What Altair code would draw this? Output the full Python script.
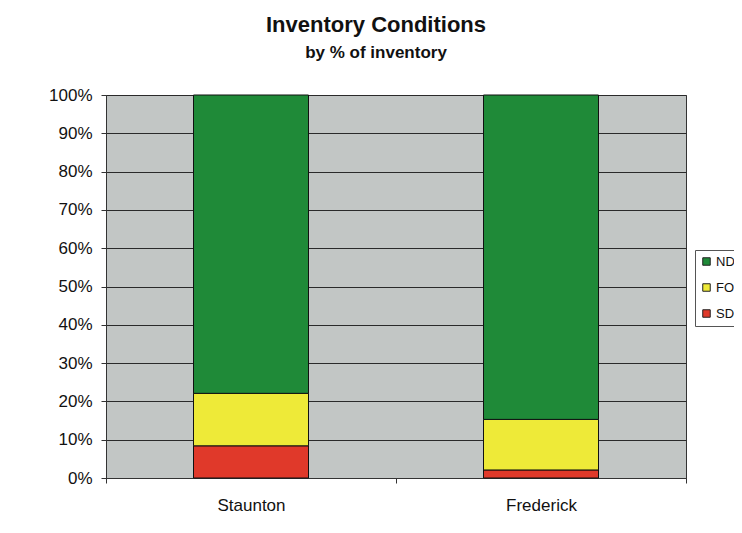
import altair as alt
import pandas as pd

sites = ["Staunton", "Frederick"]
conditions = ["ND", "FO", "SD"]
colors = ["#1f8a38", "#eeea38", "#e0392a"]
nd = [77.9, 84.7]
fo = [13.7, 13.2]
sd = [8.4, 2.1]
y_ticks = [0, 10, 20, 30, 40, 50, 60, 70, 80, 90, 100]

rows = []
for i, s in enumerate(sites):
    rows.append({"site": s, "cond": "SD", "value": sd[i], "ord": 0})
    rows.append({"site": s, "cond": "FO", "value": fo[i], "ord": 1})
    rows.append({"site": s, "cond": "ND", "value": nd[i], "ord": 2})
df = pd.DataFrame(rows)

FONT = "Liberation Sans"

chart = alt.Chart(df).mark_bar(size=115, stroke="#111111", strokeWidth=1).encode(
    x=alt.X("site:N", sort=sites, title=None,
            scale=alt.Scale(paddingInner=0, paddingOuter=0),
            axis=alt.Axis(labelAngle=0, tickBand="extent", labelFontSize=17,
                          labelFont=FONT, labelColor="#111", labelPadding=14,
                          domainColor="#333", tickColor="#333", tickSize=5,
                          grid=False)),
    y=alt.Y("value:Q", stack="zero", title=None,
            scale=alt.Scale(domain=[0, 100], nice=False),
            axis=alt.Axis(values=y_ticks, labelExpr="datum.value + '%'",
                          labelFontSize=17, labelFont=FONT, labelColor="#111",
                          domainColor="#333", tickColor="#333", tickSize=5,
                          labelPadding=9, gridColor="#2a2a2a", gridWidth=1,
                          gridOpacity=1)),
    color=alt.Color("cond:N", sort=conditions,
                    scale=alt.Scale(domain=conditions, range=colors),
                    legend=alt.Legend(title=None, orient="none", legendX=589, legendY=155,
                                      symbolType="square", symbolSize=56,
                                      symbolStrokeColor="#222", symbolStrokeWidth=1,
                                      labelFontSize=13, labelFont=FONT, labelColor="#111",
                                      rowPadding=12, padding=5, labelOffset=3,
                                      strokeColor="#555", fillColor="white")),
    order=alt.Order("ord:Q"),
).properties(
    width=580,
    height=383,
    background="white",
    title=alt.TitleParams(
        text="Inventory Conditions",
        subtitle="by % of inventory",
        font=FONT, fontSize=22, fontWeight="bold", color="#111",
        subtitleFont=FONT, subtitleFontSize=17, subtitleFontWeight="bold",
        subtitleColor="#111", subtitlePadding=8,
        anchor="middle", dx=-20, offset=24,
    ),
    autosize=alt.AutoSizeParams(type="none"),
    padding={"left": 98, "top": 87, "right": 48, "bottom": 40},
).configure_view(
    fill="#c2c6c5", stroke="#333", strokeWidth=1
)

chart.save("out.html", embed_options={"renderer": "svg", "actions": False})
